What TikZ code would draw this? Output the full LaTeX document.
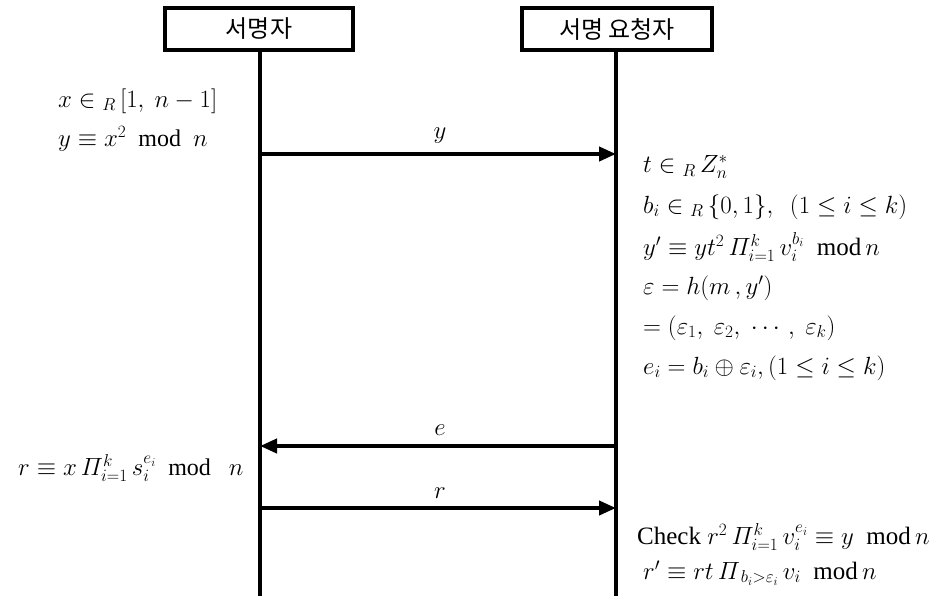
\documentclass[tikz,border=0pt]{standalone}
\usepackage{amsmath}
\usepackage{fontspec}
\setmainfont{Liberation Serif}
\newfontfamily\kr{Noto Sans CJK KR}
\usetikzlibrary{arrows.meta}
\tikzset{
  actor/.style={draw, line width=3.5pt, minimum height=42pt, inner sep=0pt, font=\kr\fontsize{24}{28}\selectfont},
  life/.style={line width=4pt},
  msg/.style={line width=4pt, -{Triangle[length=17pt,width=14pt]}},
  mtext/.style={anchor=west, inner sep=0pt, font=\fontsize{24}{28}\selectfont},
  rtext/.style={anchor=west, inner sep=0pt, font=\fontsize{25}{29}\selectfont},
  lbl/.style={inner sep=0pt, font=\fontsize{24}{28}\selectfont}
}
\begin{document}
\begin{tikzpicture}[x=1pt,y=-1pt]
\useasboundingbox (0,0) rectangle (939,595);
% actors
\node[actor, minimum width=188pt] (A) at (259,29) {서명자};
\node[actor, minimum width=190pt] (B) at (617,29) {서명 요청자};
% lifelines
\coordinate (Abot) at (260,596);
\coordinate (Bbot) at (616,596);
\draw[life] (A.south -| Abot) -- (Abot);
\draw[life] (B.south -| Bbot) -- (Bbot);
% message endpoints
\coordinate (a1) at (260,154); \coordinate (b1) at (616,154);
\coordinate (a2) at (260,446); \coordinate (b2) at (616,446);
\coordinate (a3) at (260,508); \coordinate (b3) at (616,508);
\draw[msg] (a1) -- (b1);
\draw[msg] (b2) -- (a2);
\draw[msg] (a3) -- (b3);
\node[lbl] (ly) at (440,136) {$y$};
\node[lbl] (le) at (440,430) {$e$};
\node[lbl] (lr) at (440,493) {$r$};
% left side text
\node[mtext] (l1) at (58,101) {$x\in{}_R\,[1,\ n-1]$};
\node[mtext] (l2) at (58,139) {$y\equiv x^2\ \ \mathrm{mod}\ \ n$};
\node[mtext] (l3) at (18,468) {$r\equiv x\,\varPi_{i=1}^{k}\, s_i^{e_i}\ \ \mathrm{mod}\ \ \ n$};
% right side text
\node[rtext] (r1) at (643,167) {$t\in{}_R\,Z_n^{*}$};
\node[rtext] (r2) at (643,207) {$b_i\in{}_R\,\{0,1\},\ \ (1\le i\le k)$};
\node[rtext] (r3) at (643,247) {$y'\equiv yt^2\,\varPi_{i=1}^{k}\,v_i^{b_i}\ \ \mathrm{mod}\, n$};
\node[rtext] (r4) at (643,288) {$\varepsilon= h(m\,,y')$};
\node[rtext] (r5) at (643,328) {$=(\varepsilon_1,\ \varepsilon_2,\ \cdots,\ \varepsilon_k)$};
\node[rtext] (r6) at (643,368) {$e_i= b_i\oplus\varepsilon_i, (1\le i\le k)$};
\node[rtext] (r7) at (637,537) {Check $r^2\,\varPi_{i=1}^{k}\,v_i^{e_i}\equiv y\ \ \mathrm{mod}\, n$};
\node[rtext] (r8) at (643,573) {$r'\equiv rt\,\varPi_{\,b_i>\varepsilon_i}\,v_i\ \ \mathrm{mod}\, n$};
\end{tikzpicture}
\end{document}
